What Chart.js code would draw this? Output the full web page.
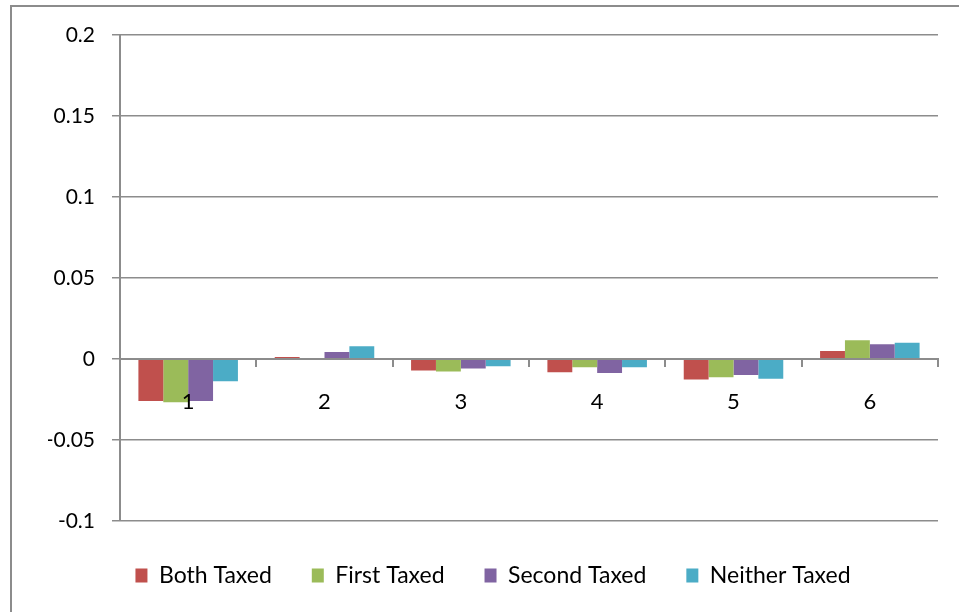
<!DOCTYPE html>
<html lang="en">
<head>
    <meta charset="UTF-8">
    <title>Taxed Comparison</title>
    <script src="https://cdn.jsdelivr.net/npm/chart.js@4.4.0/dist/chart.umd.min.js"></script>
    <style>
        html, body { margin: 0; padding: 0; background: #fff; }
        .wrap { position: relative; width: 959px; height: 612px; overflow: hidden; }
        .frame {
            position: absolute; left: 10px; top: 5px; width: 1000px; height: 700px;
            border-left: 2px solid #8c8c8c; border-top: 2px solid #8c8c8c;
        }
        canvas { position: absolute; left: 0; top: 0; }
    </style>
</head>
<body>
    <div class="wrap">
        <div class="frame"></div>
        <canvas id="chart" width="959" height="612"></canvas>
    </div>

    <script>
        // data
        const categories = ['1', '2', '3', '4', '5', '6'];
        const bothTaxed = [-0.026, 0.0012, -0.0072, -0.0082, -0.0128, 0.0049];
        const firstTaxed = [-0.0268, 0.0002, -0.0078, -0.0052, -0.0113, 0.0115];
        const secondTaxed = [-0.026, 0.0043, -0.006, -0.0088, -0.0099, 0.0091];
        const neitherTaxed = [-0.0138, 0.0078, -0.0045, -0.0052, -0.0123, 0.0099];
        const yTicks = [-0.1, -0.05, 0, 0.05, 0.1, 0.15, 0.2];

        const gridColor = '#8c8c8c';
        const fontFamily = 'Lato, "Open Sans", sans-serif';

        const ctx = document.getElementById('chart').getContext('2d');
        const chart = new Chart(ctx, {
            type: 'bar',
            data: {
                labels: categories,
                datasets: [
                    { label: 'Both Taxed', data: bothTaxed, backgroundColor: '#C0504D' },
                    { label: 'First Taxed', data: firstTaxed, backgroundColor: '#9BBB59' },
                    { label: 'Second Taxed', data: secondTaxed, backgroundColor: '#8064A2' },
                    { label: 'Neither Taxed', data: neitherTaxed, backgroundColor: '#4BACC6' }
                ]
            },
            options: {
                responsive: false,
                animation: false,
                devicePixelRatio: 1,
                categoryPercentage: 0.73,
                barPercentage: 1,
                layout: {
                    padding: { left: 48, top: 35, right: 21, bottom: 15 }
                },
                plugins: {
                    legend: {
                        position: 'bottom',
                        // tiny blank title just pushes the row down a bit
                        title: {
                            display: true,
                            text: ' ',
                            font: { size: 1 },
                            padding: { top: 0, bottom: 2 }
                        },
                        labels: {
                            color: '#000',
                            font: { family: fontFamily, size: 23 },
                            boxWidth: 12,
                            boxHeight: 14,
                            padding: 40
                        }
                    },
                    tooltip: { enabled: false }
                },
                scales: {
                    x: {
                        position: { y: 0 },
                        grid: {
                            display: true,
                            drawOnChartArea: false,
                            drawTicks: true,
                            tickLength: 7,
                            color: gridColor,
                            lineWidth: 2,
                            offset: true,
                            z: 1
                        },
                        border: { color: gridColor, width: 2, z: 1 },
                        ticks: {
                            color: '#000',
                            font: { family: fontFamily, size: 22 },
                            padding: 23,
                            maxRotation: 0,
                            z: 1
                        }
                    },
                    y: {
                        min: -0.1,
                        max: 0.2,
                        afterBuildTicks: function(scale) {
                            scale.ticks = yTicks.map(v => ({ value: v }));
                        },
                        afterFit: function(scale) {
                            scale.width = 72;
                        },
                        grid: {
                            color: gridColor,
                            lineWidth: 1.5,
                            tickLength: 8
                        },
                        border: { color: gridColor, width: 2 },
                        ticks: {
                            color: '#000',
                            font: { family: fontFamily, size: 21 },
                            padding: 17,
                            callback: function(value) {
                                return String(parseFloat(value.toFixed(2)));
                            }
                        }
                    }
                }
            }
        });
    </script>
</body>
</html>
